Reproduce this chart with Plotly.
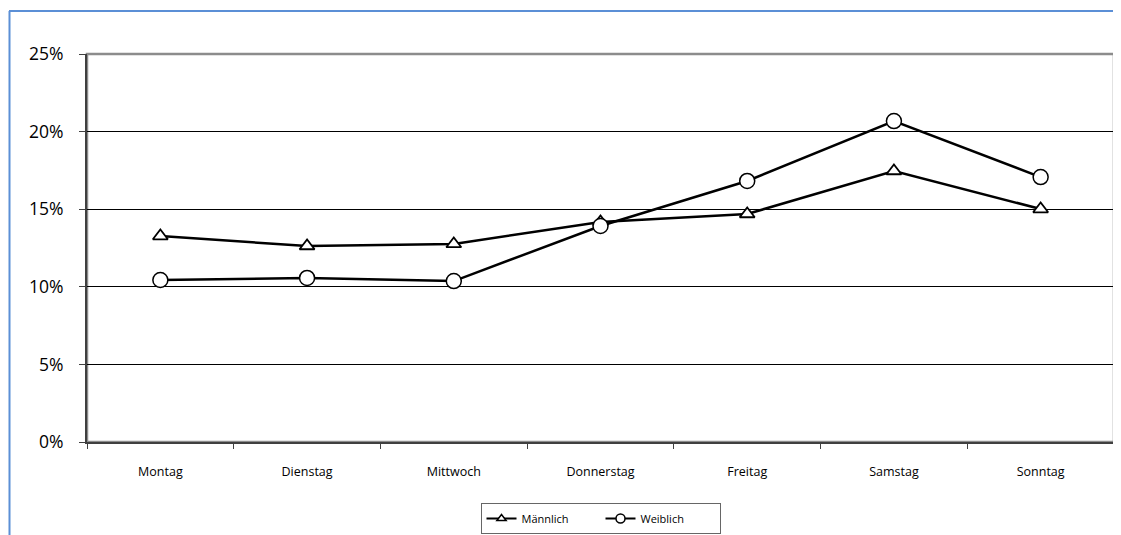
import plotly.graph_objects as go

days = ["Montag", "Dienstag", "Mittwoch", "Donnerstag", "Freitag", "Samstag", "Sonntag"]
maennlich = [0.1327, 0.1263, 0.1276, 0.1418, 0.1469, 0.1746, 0.1501]
weiblich = [0.1044, 0.1057, 0.1037, 0.1392, 0.1682, 0.2068, 0.1707]
y_ticks = [0, 0.05, 0.10, 0.15, 0.20, 0.25]
y_labels = ["0%", "5%", "10%", "15%", "20%", "25%"]

# page has an 8px body margin; figure coords = page coords - 8
OFF = 8
W, H = 1121 - OFF, 535 - OFF
L, T = 87 - OFF, 54 - OFF
R = W - (1114 - OFF)
B = H - (442 - OFF)
pw, ph = W - L - R, H - T - B

def px(x):
    return (x - OFF - L) / pw

def py(y):
    return (H - B - (y - OFF)) / ph

fig = go.Figure()
fig.add_trace(go.Scatter(
    x=days, y=maennlich, name="Männlich", mode="lines+markers", showlegend=False,
    line=dict(color="black", width=2.5),
    marker=dict(symbol="triangle-up", size=13, color="white", line=dict(color="black", width=1.8)),
))
fig.add_trace(go.Scatter(
    x=days, y=weiblich, name="Weiblich", mode="lines+markers", showlegend=False,
    line=dict(color="black", width=2.5),
    marker=dict(symbol="circle", size=15, color="white", line=dict(color="black", width=1.5)),
))
# legend entries with smaller symbols (as in the reference legend)
fig.add_trace(go.Scatter(
    x=[None], y=[None], name="Männlich", mode="lines+markers",
    line=dict(color="black", width=2),
    marker=dict(symbol="triangle-up", size=8, color="white", line=dict(color="black", width=1.5)),
))
fig.add_trace(go.Scatter(
    x=[None], y=[None], name="Weiblich", mode="lines+markers",
    line=dict(color="black", width=2),
    marker=dict(symbol="circle", size=9, color="white", line=dict(color="black", width=1.5)),
))

shapes = [
    dict(type="rect", xref="paper", yref="paper", x0=0, x1=1, y0=0, y1=1,
         line=dict(color="#8c8c8c", width=2.5), layer="below"),
    dict(type="line", xref="paper", yref="paper", x0=px(9.5), x1=px(9.5), y0=py(11), y1=py(545),
         line=dict(color="#5b8fd6", width=2)),
    dict(type="line", xref="paper", yref="paper", x0=px(9), x1=px(1130), y0=py(11), y1=py(11),
         line=dict(color="#5b8fd6", width=2)),
]

fig.update_layout(
    width=W, height=H, autosize=False,
    margin=dict(l=L, r=R, t=T, b=B, autoexpand=False),
    paper_bgcolor="white", plot_bgcolor="white",
    font=dict(family="Open Sans, Liberation Sans, sans-serif", color="black"),
    showlegend=True,
    legend=dict(orientation="h", x=0.5, xanchor="center", y=py(503), yanchor="top",
                bordercolor="#666666", borderwidth=1, font=dict(size=11),
                entrywidth=74, tracegroupgap=0),
    shapes=shapes,
    xaxis=dict(type="category", range=[-0.5, 6.5], showgrid=False,
               showline=True, linecolor="#404040", linewidth=2,
               ticks="outside", tickson="boundaries", ticklen=5, tickcolor="#404040",
               tickfont=dict(size=12.5), ticklabelstandoff=17, zeroline=False),
    yaxis=dict(range=[0, 0.25], tickvals=y_ticks, ticktext=y_labels,
               showgrid=True, gridcolor="black", gridwidth=1,
               showline=True, linecolor="#404040", linewidth=2,
               ticks="outside", ticklen=6, tickcolor="#404040",
               tickfont=dict(size=17.5), ticklabelstandoff=12, zeroline=False),
)

fig.write_html("out.html")
